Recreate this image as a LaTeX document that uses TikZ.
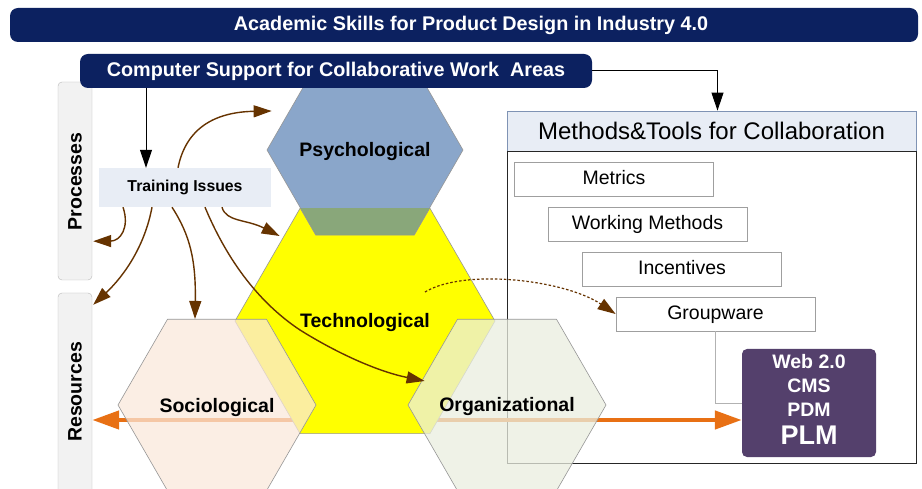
\documentclass[tikz,border=0pt]{standalone}
\usepackage{fontspec}
\setmainfont{Liberation Sans}
\usetikzlibrary{shapes.geometric,arrows.meta,calc}
\definecolor{navy}{RGB}{12,33,96}
\definecolor{psyblue}{RGB}{138,166,202}
\definecolor{ovgreen}{RGB}{137,167,122}
\definecolor{socfill}{RGB}{250,232,219}
\definecolor{orgfill}{RGB}{234,238,224}
\definecolor{trainfill}{RGB}{232,237,245}
\definecolor{sidefill}{RGB}{242,242,242}
\definecolor{brownarr}{RGB}{102,51,0}
\definecolor{orangearr}{RGB}{232,112,20}
\definecolor{plmpurple}{RGB}{84,64,108}
\definecolor{hexline}{RGB}{150,150,150}
\definecolor{titleline}{RGB}{127,147,180}
\definecolor{hexyellow}{RGB}{255,255,0}
\begin{document}
\begin{tikzpicture}[x=1pt,y=-1pt,
  hexa/.style={regular polygon, regular polygon sides=6, inner sep=0pt, minimum size=#1, draw=hexline, line width=0.6pt},
  sidebox/.style={draw=gray!55, fill=sidefill, rounded corners=4pt, minimum width=34pt, inner sep=0pt},
  sidetext/.style={rotate=90, font=\bfseries\fontsize{19.5}{20}\selectfont, inner sep=0pt},
  toolbox/.style={draw=gray!75, line width=0.8pt, fill=white, minimum width=199pt, minimum height=34pt, inner sep=0pt, text height=15pt, text depth=3pt, font=\fontsize{19.5}{20}\selectfont},
  brarrow/.style={draw=brownarr, line width=1.4pt, -{Triangle[length=18pt,width=12pt]}},
  blkarrow/.style={draw=black, line width=1pt, -{Triangle[length=18pt,width=12pt]}},
  banner/.style={fill=navy, rounded corners=8pt, inner sep=0pt, minimum height=34pt},
  bannertext/.style={text=white, font=\bfseries\fontsize{19.8}{20}\selectfont},
  hexlabel/.style={font=\bfseries\fontsize{19.5}{20}\selectfont, inner sep=0pt, anchor=base}
]
\useasboundingbox (0,0) rectangle (922,489);
\fill[white] (0,0) rectangle (922,489);

% side boxes
\node[sidebox, minimum height=198pt] (proc) at (75,181) {};
\node[sidebox, minimum height=202pt] (res) at (75,394) {};
\node[sidetext] (proclbl) at (75,181.5) {Processes};
\node[sidetext] (reslbl) at (75,392) {Resources};

% training
\node[fill=trainfill, minimum width=172pt, minimum height=39pt, inner sep=0pt, font=\bfseries\fontsize{15.8}{16}\selectfont] (train) at (185,187.5) {Training Issues};

% methods and tools box
\node[draw=titleline, line width=0.8pt, fill=trainfill, minimum width=409pt, minimum height=40pt, inner sep=0pt, font=\fontsize{24}{24}\selectfont] (mt) at (711.5,131) {Methods\&Tools for Collaboration};
\node[draw=black!85, line width=0.9pt, minimum width=409pt, minimum height=312pt, inner sep=0pt] (mtbody) at (711.5,307) {};
\node[toolbox] (met) at (614,179) {Metrics};
\node[toolbox] (wm) at (647.5,224) {Working Methods};
\node[toolbox] (inc) at (682,269) {Incentives};
\node[toolbox] (gw) at (715.5,314) {Groupware};

% PLM box
\node[fill=plmpurple, rounded corners=5pt, minimum width=134pt, minimum height=108pt, inner sep=0pt] (plm) at (809,403) {};
\draw[gray!60, line width=0.9pt] (gw.south) |- (plm.west);
\node[text=white, font=\bfseries\fontsize{19.5}{24}\selectfont, align=center, inner sep=0pt] (plmtext) at ($(plm.center)+(0,-4)$) {Web 2.0\\CMS\\PDM\\[4pt]{\fontsize{27}{27}\selectfont PLM}};

% orange double arrow (under the hexagons)
\coordinate (oy) at (0,420);
\draw[orangearr, line width=4.5pt, {Triangle[length=27pt,width=18pt]}-{Triangle[length=27pt,width=18pt]}] (res.east |- oy) -- (plm.west |- oy);

% hexagons
\node[hexa=196pt, fill=psyblue] (psy) at (365,150) {};
\node[hexa=260pt, fill=hexyellow] (tech) at (365,321) {};
\begin{scope}
  \clip (tech.corner 1) -- (tech.corner 2) -- (tech.corner 3) -- (tech.corner 4) -- (tech.corner 5) -- (tech.corner 6) -- cycle;
  \filldraw[fill=ovgreen, draw=hexline, line width=0.6pt] (psy.corner 1) -- (psy.corner 2) -- (psy.corner 3) -- (psy.corner 4) -- (psy.corner 5) -- (psy.corner 6) -- cycle;
\end{scope}
\node[hexa=198pt, fill=socfill, fill opacity=0.73] (soc) at (217,405) {};
\node[hexa=198pt, fill=orgfill, fill opacity=0.75] (org) at (507,405) {};

\node[hexlabel] (psylbl) at (365,157) {Psychological};
\node[hexlabel] (techlbl) at (365,327) {Technological};
\node[hexlabel] (soclbl) at (217,412) {Sociological};
\node[hexlabel] (orglbl) at (507,411.5) {Organizational};

% banners
\node[banner, minimum width=908pt] (top) at (464,25) {};
\node[bannertext, inner sep=0pt] (toptext) at (471,25) {Academic Skills for Product Design in Industry 4.0};
\node[banner, minimum width=512pt, bannertext] (cscw) at (336,71) {Computer Support for Collaborative Work\ \ Areas};

% black arrows
\coordinate (ax) at (146,0);
\draw[blkarrow] (cscw.south -| ax) -- (train.north -| ax);
\draw[blkarrow] (cscw.east) -| ($(mt.north)+(6,0)$);

% brown arrows
\draw[brarrow] ($(train.north)+(-7,0)$) .. controls (186,128) and (215,112) .. ($(psy.west)+(5,-39)$);
\draw[brarrow] ($(train.south)+(-62,0)$) .. controls (130,228) and (120,241) .. ($(proc.south east)+(1,-39)$);
\draw[brarrow] ($(train.south)+(-33,0)$) .. controls (145,245) and (125,275) .. ($(res.north east)+(1,12)$);
\draw[brarrow] ($(train.south)+(-13,0)$) .. controls (190,235) and (196,260) .. ($(soc.north)+(-22,0)$);
\draw[brarrow] ($(train.south)+(20,0)$) .. controls (225,255) and (255,300) .. (300,330) .. controls (340,355) and (380,372) .. ($(org.west)+(17,-24)$);
\draw[brarrow] ($(train.south)+(37,0)$) .. controls (226,222) and (246,219) .. ($(tech.west)+(45,-85)$);
\draw[draw=brownarr, line width=1.2pt, dash pattern=on 2.5pt off 2pt, -{Triangle[length=18pt,width=12pt]}] ($(tech.center)+(60,-29)$) .. controls (465,268) and (565,280) .. (gw.west);
\end{tikzpicture}
\end{document}
